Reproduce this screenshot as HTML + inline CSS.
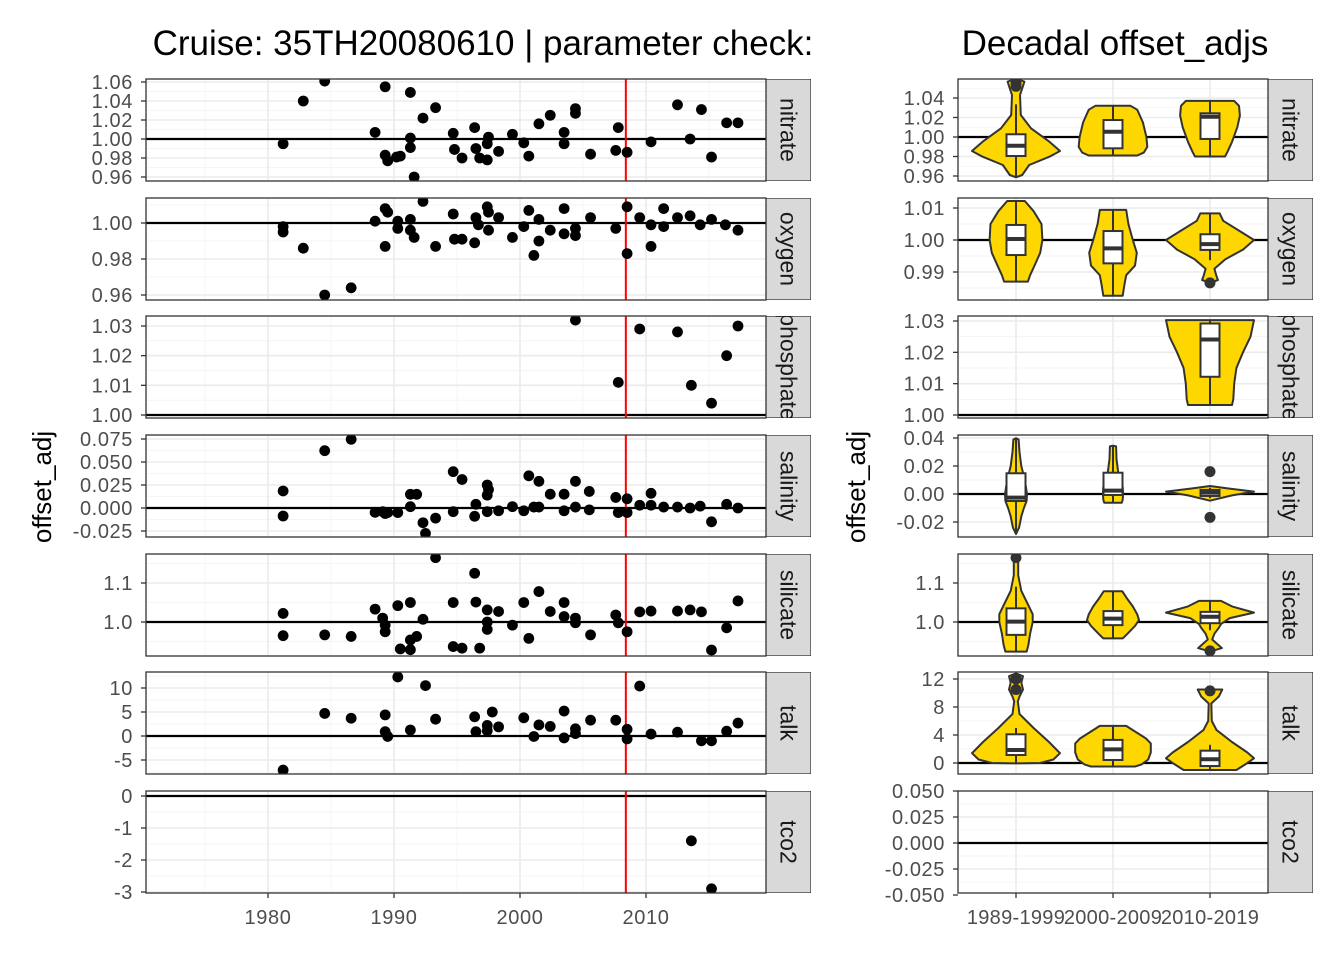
<!DOCTYPE html>
<html><head><meta charset="utf-8"><style>
html,body{margin:0;padding:0;background:#fff;}
svg{display:block;font-family:"Liberation Sans",Arial,sans-serif;}
</style></head><body>
<svg id="chart" width="1344" height="960" viewBox="0 0 1344 960" xmlns="http://www.w3.org/2000/svg">
<text x="483" y="55" font-size="35" text-anchor="middle" fill="#000">Cruise: 35TH20080610 | parameter check:</text>
<text x="1115" y="55" font-size="35" text-anchor="middle" fill="#000">Decadal offset_adjs</text>
<text transform="translate(51,487) rotate(-90)" font-size="26" text-anchor="middle" fill="#000">offset_adj</text>
<text transform="translate(865,487) rotate(-90)" font-size="26" text-anchor="middle" fill="#000">offset_adj</text>
</svg>
<script>
// ---------- DATA ----------
const params = ["nitrate","oxygen","phosphate","salinity","silicate","talk","tco2"];
const xTicks = [1980,1990,2000,2010];
const refYear = 2008.4;
const decades = ["1989-1999","2000-2009","2010-2019"];

const leftTicks = [
  [0.96,0.98,1.00,1.02,1.04,1.06],
  [0.96,0.98,1.00],
  [1.00,1.01,1.02,1.03],
  [-0.025,0,0.025,0.05,0.075],
  [1.0,1.1],
  [-5,0,5,10],
  [-3,-2,-1,0]
];
const leftTickLabels = [
  ["0.96","0.98","1.00","1.02","1.04","1.06"],
  ["0.96","0.98","1.00"],
  ["1.00","1.01","1.02","1.03"],
  ["-0.025","0.000","0.025","0.050","0.075"],
  ["1.0","1.1"],
  ["-5","0","5","10"],
  ["-3","-2","-1","0"]
];
const rightTicks = [
  [0.96,0.98,1.00,1.02,1.04],
  [0.99,1.00,1.01],
  [1.00,1.01,1.02,1.03],
  [-0.02,0,0.02,0.04],
  [1.0,1.1],
  [0,4,8,12],
  [-0.05,-0.025,0,0.025,0.05]
];
const rightTickLabels = [
  ["0.96","0.98","1.00","1.02","1.04"],
  ["0.99","1.00","1.01"],
  ["1.00","1.01","1.02","1.03"],
  ["-0.02","0.00","0.02","0.04"],
  ["1.0","1.1"],
  ["0","4","8","12"],
  ["-0.050","-0.025","0.000","0.025","0.050"]
];
const refValues = [1,1,1,0,1,0,0];

const nitrateYears = [1981.2,1982.8,1984.5,1988.5,1989.3,1989.3,1989.5,1990.2,1990.5,1991.3,1991.3,1991.3,1991.6,1992.3,1993.3,1994.7,1994.8,1995.4,1996.4,1996.5,1996.8,1997.4,1997.5,1997.4,1998.3,1999.4,2000.3,2000.7,2001.5,2002.4,2003.5,2003.5,2004.4,2004.4,2005.6,2007.8,2007.6,2008.5,2010.4,2012.5,2013.5,2014.4,2015.2,2016.4,2017.3];
const nitrateVals = [0.995,1.040,1.061,1.007,1.055,0.983,0.977,0.981,0.982,1.049,1.001,0.991,0.960,1.022,1.033,1.006,0.989,0.980,1.012,0.990,0.980,0.978,1.002,0.995,0.987,1.005,0.996,0.982,1.016,1.025,1.007,0.995,1.032,1.027,0.984,1.012,0.988,0.986,0.997,1.036,1.000,1.031,0.981,1.017,1.017];
const oxygenYears = [1981.2,1981.2,1982.8,1984.5,1986.6,1988.5,1989.3,1989.5,1989.3,1990.3,1990.3,1991.3,1991.3,1991.6,1992.3,1993.3,1994.7,1994.8,1995.4,1996.4,1996.5,1996.7,1997.4,1997.5,1997.5,1998.3,1999.4,2000.3,2000.7,2001.1,2001.5,2001.5,2002.4,2003.5,2003.5,2004.4,2004.4,2005.6,2007.6,2008.5,2008.5,2009.5,2010.4,2010.4,2011.4,2011.4,2012.5,2013.5,2014.3,2015.2,2016.3,2017.3];
const oxygenVals = [0.998,0.995,0.986,0.960,0.964,1.001,1.008,1.006,0.987,1.001,0.997,1.002,0.996,0.992,1.012,0.987,1.005,0.991,0.991,0.989,1.003,0.999,1.009,1.006,0.996,1.003,0.992,0.998,1.007,0.982,0.990,1.002,0.996,1.008,0.994,0.997,0.993,1.003,0.997,1.009,0.983,1.003,0.999,0.987,1.008,0.998,1.003,1.004,0.999,1.002,0.999,0.996];
const phosphateYears = [2004.4,2007.8,2009.5,2012.5,2013.6,2015.2,2016.4,2017.3];
const phosphateVals = [1.032,1.011,1.029,1.028,1.010,1.004,1.020,1.030];
const salinityYears = [1981.2,1981.2,1984.5,1986.6,1988.5,1989.1,1989.3,1989.5,1990.3,1991.3,1991.8,1991.3,1992.3,1992.5,1993.3,1994.7,1995.4,1994.7,1996.4,1997.4,1997.5,1997.4,1996.5,1997.4,1998.3,1999.4,2000.3,2000.7,2001.5,2001.1,2001.5,2002.4,2003.5,2003.5,2004.4,2004.4,2005.5,2005.5,2007.6,2007.8,2008.5,2008.5,2009.5,2010.4,2010.4,2011.4,2012.5,2013.5,2014.3,2015.2,2016.4,2017.3];
const salinityVals = [0.0185,-0.0087,0.0623,0.0747,-0.0047,-0.004,-0.006,-0.005,-0.005,0.0149,0.0149,0.0014,-0.016,-0.0276,-0.011,0.0395,0.031,-0.004,-0.009,0.025,0.020,0.014,0.004,-0.004,-0.003,0.0015,-0.003,0.035,0.029,0.001,0.001,0.015,0.015,-0.003,0.029,0.001,0.018,-0.002,0.0115,-0.005,0.010,-0.005,0.003,0.016,0.003,0.001,0.001,0.0,0.002,-0.015,0.004,0.0];
const silicateYears = [1981.2,1981.2,1984.5,1986.6,1988.5,1989.1,1989.3,1989.3,1990.3,1991.3,1990.5,1991.3,1991.3,1991.8,1992.3,1993.3,1994.7,1994.7,1995.4,1996.4,1996.5,1996.8,1997.4,1998.3,1997.4,1997.4,1999.4,2000.3,2000.7,2001.5,2002.4,2003.5,2003.5,2004.4,2004.4,2005.6,2007.6,2007.8,2008.5,2009.5,2010.4,2012.5,2013.5,2014.4,2015.2,2016.4,2017.3];
const silicateVals = [1.022,0.965,0.967,0.963,1.033,1.010,0.992,0.975,1.042,1.050,0.931,0.929,0.954,0.963,1.007,1.165,1.050,0.937,0.933,1.125,1.051,0.933,1.031,1.027,1.000,0.981,0.992,1.050,0.958,1.078,1.027,1.050,1.014,1.010,0.998,0.967,1.018,0.998,0.975,1.026,1.028,1.028,1.031,1.026,0.928,0.985,1.054];
const talkYears = [1981.2,1984.5,1986.6,1989.3,1989.3,1989.5,1990.3,1991.3,1992.5,1993.3,1996.4,1996.5,1997.4,1997.4,1997.8,1998.3,2000.3,2001.1,2001.5,2002.4,2003.5,2003.5,2004.4,2004.4,2005.6,2007.6,2008.5,2008.5,2009.5,2010.4,2012.5,2014.4,2015.2,2016.4,2017.3];
const talkVals = [-7.1,4.7,3.7,4.4,0.9,-0.1,12.3,1.25,10.5,3.5,4.0,0.9,1.1,2.2,5.0,1.9,3.8,-0.1,2.3,2.0,5.2,-0.4,1.5,0.5,3.3,3.3,1.4,-0.6,10.4,0.4,0.8,-1.0,-1.0,1.0,2.7];
const tco2Years = [2013.6,2015.2];
const tco2Vals = [-1.4,-2.9];
const pointYears = [nitrateYears,oxygenYears,phosphateYears,salinityYears,silicateYears,talkYears,tco2Years];
const pointVals = [nitrateVals,oxygenVals,phosphateVals,salinityVals,silicateVals,talkVals,tco2Vals];

// violin profiles: [value, relative half-width]; null = no data
const nitrateViolins = [
  [[1.060,0],[1.0567,0.19],[1.043,0.09],[1.0226,0.11],[1.0089,0.34],[0.9952,0.76],[0.9856,1.0],[0.9798,0.76],[0.9713,0.30],[0.961,0.14],[0.9587,0]],
  [[1.032,0],[1.032,0.40],[1.028,0.55],[1.015,0.68],[1.000,0.76],[0.990,0.78],[0.984,0.70],[0.981,0.55],[0.981,0]],
  [[1.037,0],[1.037,0.55],[1.032,0.66],[1.022,0.68],[1.01,0.62],[0.995,0.50],[0.985,0.40],[0.980,0.34],[0.980,0]]
];
const oxygenViolins = [
  [[1.0122,0],[1.0122,0.2],[1.009,0.4],[1.005,0.58],[1.0,0.6],[0.996,0.55],[0.992,0.42],[0.989,0.32],[0.987,0.27],[0.987,0]],
  [[1.0094,0],[1.0094,0.3],[1.005,0.35],[1.0,0.45],[0.996,0.54],[0.992,0.5],[0.989,0.3],[0.986,0.26],[0.9826,0.22],[0.9826,0]],
  [[1.0083,0],[1.0083,0.22],[1.006,0.3],[1.003,0.65],[1.0,1.0],[0.997,0.75],[0.994,0.35],[0.991,0.1],[0.989,0.14],[0.9875,0.18],[0.9866,0]]
];
const phosphateViolins = [null,null,
  [[1.0303,0],[1.0303,1.0],[1.025,0.92],[1.02,0.75],[1.015,0.6],[1.01,0.55],[1.005,0.53],[1.0032,0.5],[1.0032,0]]
];
const salinityViolins = [
  [[0.0398,0],[0.039,0.06],[0.03,0.08],[0.02,0.12],[0.01,0.2],[0.0,0.25],[-0.005,0.24],[-0.01,0.18],[-0.016,0.12],[-0.024,0.07],[-0.0286,0]],
  [[0.0345,0],[0.034,0.07],[0.025,0.08],[0.015,0.12],[0.005,0.22],[0.0,0.23],[-0.004,0.22],[-0.0062,0.2],[-0.0062,0]],
  [[0.0057,0],[0.004,0.4],[0.0017,1.0],[-0.001,0.5],[-0.0048,0]]
];
const silicateViolins = [
  [[1.1675,0],[1.16,0.05],[1.12,0.05],[1.08,0.12],[1.05,0.25],[1.02,0.38],[1.0,0.38],[0.97,0.32],[0.94,0.28],[0.924,0.24],[0.924,0]],
  [[1.079,0],[1.079,0.21],[1.06,0.32],[1.04,0.45],[1.02,0.55],[1.005,0.59],[0.99,0.5],[0.97,0.33],[0.958,0.22],[0.958,0]],
  [[1.054,0],[1.054,0.25],[1.04,0.5],[1.024,1.0],[1.01,0.45],[0.995,0.25],[0.985,0.2],[0.97,0.1],[0.955,0.05],[0.94,0.2],[0.933,0.27],[0.924,0]]
];
const talkViolins = [
  [[12.8,0],[12.4,0.16],[11.5,0.12],[10.5,0.16],[9.5,0.08],[8.8,0.04],[7,0.08],[5,0.4],[3,0.75],[1.4,1.0],[0.5,0.85],[0,0.55],[-0.05,0]],
  [[5.3,0],[5.3,0.3],[4.5,0.5],[3.5,0.75],[2.8,0.86],[1.5,0.86],[0.5,0.8],[-0.2,0.65],[-0.5,0.5],[-0.5,0]],
  [[10.5,0],[10.5,0.28],[9.5,0.2],[8.5,0.03],[6,0.04],[4.7,0.15],[3,0.5],[1.5,0.85],[0.67,1.0],[0,0.85],[-1.0,0.6],[-1.0,0]]
];
const violins = [nitrateViolins,oxygenViolins,phosphateViolins,salinityViolins,silicateViolins,talkViolins,[null,null,null]];

// boxes: [lowerWhisker, q1, median, q3, upperWhisker]
const boxStats = [
  [[0.959,0.9805,0.991,1.0028,1.0335],[0.981,0.9884,1.0054,1.0174,1.032],[0.980,0.998,1.0208,1.0243,1.037]],
  [[0.987,0.9953,1.0003,1.0047,1.0122],[0.9826,0.9927,0.9974,1.0028,1.0094],[0.9937,0.9969,0.9987,1.0018,1.0083]],
  [null,null,[1.0032,1.0122,1.0241,1.0292,1.0303]],
  [[-0.0286,-0.005,-0.0026,0.0148,0.0398],[-0.0062,-0.0007,0.0024,0.0152,0.0345],[-0.003,-0.0014,0.001,0.0029,0.0045]],
  [[0.924,0.967,1.001,1.035,1.0905],[0.958,0.992,1.0085,1.028,1.079],[0.979,0.997,1.0136,1.026,1.054]],
  [[0,1.14,1.86,4.1,5.0],[-0.5,0.43,1.95,3.3,5.3],[-1.0,-0.43,0.53,1.76,2.6]],
  [null,null,null]
];
const outliers = [
  [[1.052,1.055],[],[]],
  [[],[],[0.9866]],
  [[],[],[]],
  [[],[],[0.016,-0.0167]],
  [[1.165],[],[0.926]],
  [[12.0,10.5],[],[10.3]],
  [[],[],[]]
];

// ---------- LAYOUT ----------
const NS = "http://www.w3.org/2000/svg";
const svg = document.getElementById("chart");
const panelTops = [79,198,316,435,554,672,791];
const PH = 102;
const L = {x0:146, x1:766};
const R = {x0:958, x1:1268};
const stripW = 45;
const leftCal = [[1.00,139,0.96,177],[1.00,223,0.96,295],[1.03,326,1.00,415],[0,508,0.075,439],[1.0,622,1.1,583],[0,736,10,688],[0,796,-3,892]];
const rightCal = [[1.00,137,1.04,98],[1.00,240,1.01,208],[1.03,321,1.00,415],[0,494,0.04,438],[1.0,622,1.1,583],[0,763,12,679],[0,843,0.05,791]];
function yScale(cal){ return v => cal[1] + (v-cal[0])*(cal[3]-cal[1])/(cal[2]-cal[0]); }
const xYear = yr => 268 + (yr-1980)*12.6;
const xCat = i => 1016 + i*97;

function mk(tag, attrs, parent){
  const e = document.createElementNS(NS, tag);
  for (const k in attrs) e.setAttribute(k, attrs[k]);
  (parent||svg).appendChild(e);
  return e;
}

function drawPanel(side, p){
  const X = side==="left" ? L : R;
  const top = panelTops[p], bot = top+PH;
  const ys = yScale(side==="left" ? leftCal[p] : rightCal[p]);
  const ticks = side==="left" ? leftTicks[p] : rightTicks[p];
  const labels = side==="left" ? leftTickLabels[p] : rightTickLabels[p];
  const g = mk("g", {});
  
  
  const cid = "clip-"+side+"-"+p;
  const cp = mk("clipPath", {id:cid}, g);
  mk("rect", {x:X.x0, y:top, width:X.x1-X.x0, height:PH}, cp);
  const inner = mk("g", {"clip-path":"url(#"+cid+")"}, g);
  mk("rect", {x:X.x0, y:top, width:X.x1-X.x0, height:PH, fill:"#fff"}, inner);
  const step = ticks[1]-ticks[0];
  for (let v = ticks[0]-step/2; v <= ticks[ticks.length-1]+step; v += step){
    const y = ys(v);
    if (y>top && y<bot) mk("line", {x1:X.x0,x2:X.x1,y1:y,y2:y,stroke:"#f2f2f2","stroke-width":0.8}, inner);
  }
  if (side==="left"){
    for (let yr=1975; yr<=2015; yr+=10) mk("line",{x1:xYear(yr),x2:xYear(yr),y1:top,y2:bot,stroke:"#f2f2f2","stroke-width":0.8},inner);
    xTicks.forEach(yr => mk("line",{x1:xYear(yr),x2:xYear(yr),y1:top,y2:bot,stroke:"#ebebeb","stroke-width":1.6},inner));
  } else {
    decades.forEach((d,i)=> mk("line",{x1:xCat(i),x2:xCat(i),y1:top,y2:bot,stroke:"#ebebeb","stroke-width":1.6},inner));
  }
  ticks.forEach((v,i)=>{
    const y = ys(v);
    mk("line",{x1:X.x0,x2:X.x1,y1:y,y2:y,stroke:"#ebebeb","stroke-width":1.6},inner);
    mk("line",{x1:X.x0-5,x2:X.x0,y1:y,y2:y,stroke:"#333","stroke-width":1.3},g);
    const t = mk("text",{x:X.x0-13,y:y+7,"font-size":20,"letter-spacing":0.6,"text-anchor":"end",fill:"#4d4d4d"},g);
    t.textContent = labels[i];
    
    
  });
  const ry = ys(refValues[p]);
  const rl = mk("line",{x1:X.x0,x2:X.x1,y1:ry,y2:ry,stroke:"#000","stroke-width":2.2},inner);
  
  
  if (side==="left"){
    const rx = xYear(refYear);
    const red = mk("line",{x1:rx,x2:rx,y1:top,y2:bot,stroke:"#ff0000","stroke-width":2},inner);
    
    
    pointYears[p].forEach((yr,i)=>{
      const c = mk("circle",{cx:xYear(yr),cy:ys(pointVals[p][i]),r:5.4,fill:"#000"},inner);
      
      
    });
  } else {
    violins[p].forEach((prof,i)=>{
      if (!prof) return;
      const cx = xCat(i);
      let d = "";
      prof.forEach((q,k)=>{ d += (k?"L":"M")+(cx+q[1]*44).toFixed(1)+","+ys(q[0]).toFixed(1); });
      for (let k=prof.length-1;k>=0;k--){ d += "L"+(cx-prof[k][1]*44).toFixed(1)+","+ys(prof[k][0]).toFixed(1); }
      d += "Z";
      const v = mk("path",{d:d,fill:"#ffd700",stroke:"#333","stroke-width":2,"stroke-linejoin":"round"},inner);
      
      
      const b = boxStats[p][i];
      if (b){
        mk("line",{x1:cx,x2:cx,y1:ys(b[0]),y2:ys(b[4]),stroke:"#333","stroke-width":2},inner);
        const bx = mk("rect",{x:cx-9.5,y:ys(b[3]),width:19,height:Math.max(1,ys(b[1])-ys(b[3])),fill:"#fff",stroke:"#333","stroke-width":2},inner);
        
        
        mk("line",{x1:cx-9.5,x2:cx+9.5,y1:ys(b[2]),y2:ys(b[2]),stroke:"#333","stroke-width":4},inner);
      }
      outliers[p][i].forEach(o=>{
        const oc = mk("circle",{cx:cx,cy:ys(o),r:5.5,fill:"#333"},inner);
        
        
      });
    });
  }
  mk("rect",{x:X.x0,y:top,width:X.x1-X.x0,height:PH,fill:"none",stroke:"#333","stroke-width":1.3},g);
  const scid = "sclip-"+side+"-"+p;
  const scp = mk("clipPath",{id:scid},g);
  mk("rect",{x:X.x1,y:top,width:stripW,height:PH},scp);
  const sg = mk("g",{"clip-path":"url(#"+scid+")"},g);
  
  
  mk("rect",{x:X.x1,y:top,width:stripW,height:PH,fill:"#d9d9d9",stroke:"#333","stroke-width":1.3},sg);
  const st = mk("text",{transform:"translate("+(X.x1+stripW/2-8)+","+(top+PH/2)+") rotate(90)","font-size":23,"text-anchor":"middle",fill:"#1a1a1a"},sg);
  st.textContent = params[p];
}
for (let p=0;p<params.length;p++){ drawPanel("left",p); drawPanel("right",p); }

const lastBot = panelTops[6]+PH;
xTicks.forEach(yr=>{
  mk("line",{x1:xYear(yr),x2:xYear(yr),y1:lastBot,y2:lastBot+5,stroke:"#333","stroke-width":1.3});
  const t = mk("text",{x:xYear(yr),y:lastBot+31,"font-size":20,"letter-spacing":0.6,"text-anchor":"middle",fill:"#4d4d4d"});
  t.textContent = yr;
  
  
});
decades.forEach((d,i)=>{
  mk("line",{x1:xCat(i),x2:xCat(i),y1:lastBot,y2:lastBot+5,stroke:"#333","stroke-width":1.3});
  const t = mk("text",{x:xCat(i),y:lastBot+31,"font-size":20,"letter-spacing":0.3,"text-anchor":"middle",fill:"#4d4d4d"});
  t.textContent = d;
  
  
});
</script>
</body></html>
